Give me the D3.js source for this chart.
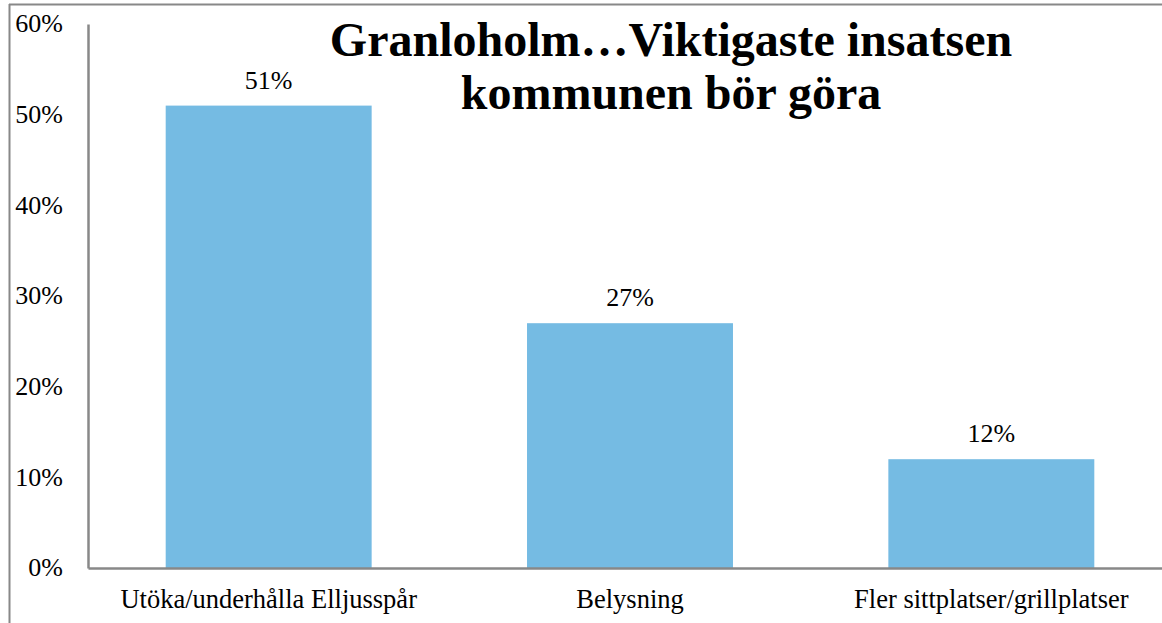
<!DOCTYPE html>
<html>
<head>
<meta charset="utf-8">
<script src="https://cdn.jsdelivr.net/npm/d3@7"></script>
<style>
  body { margin: 0; background: #fff; }
  svg { display: block; }
  text { font-family: "Liberation Serif", "DejaVu Serif", serif; }
</style>
</head>
<body>
<svg id="chart" width="1162" height="623"></svg>
<script>
const categories = ["Utöka/underhålla Elljusspår", "Belysning", "Fler sittplatser/grillplatser"];
const values = [51, 27, 12];
const yTicks = [0, 10, 20, 30, 40, 50, 60];
const titleLines = ["Granloholm…Viktigaste insatsen", "kommunen bör göra"];

const svg = d3.select("#chart");
const margin = { left: 88, right: -10, top: 24, bottom: 55 };
const width = 1162, height = 623;

// outer chart frame (only top and left edges are visible)
svg.append("line")
    .attr("x1", 9).attr("x2", width)
    .attr("y1", 4.5).attr("y2", 4.5)
    .attr("stroke", "#888").attr("stroke-width", 2);
svg.append("line")
    .attr("x1", 9.5).attr("x2", 9.5)
    .attr("y1", 4).attr("y2", height)
    .attr("stroke", "#888").attr("stroke-width", 2);

const x = d3.scaleBand()
    .domain(categories)
    .range([margin.left, width - margin.right])
    .paddingInner(0.43)
    .paddingOuter(0.215);

const y = d3.scaleLinear()
    .domain([0, 60])
    .range([height - margin.bottom, margin.top]);

// bars
svg.append("g")
    .selectAll("rect")
    .data(values)
    .enter().append("rect")
    .attr("x", (d, i) => x(categories[i]))
    .attr("width", x.bandwidth())
    .attr("y", (d) => y(d))
    .attr("height", (d) => y(0) - y(d))
    .attr("fill", "#75bbe3");

// value labels
svg.append("g")
    .selectAll("text")
    .data(values)
    .enter().append("text")
    .attr("x", (d, i) => x(categories[i]) + x.bandwidth() / 2)
    .attr("y", (d) => y(d) - 17)
    .attr("text-anchor", "middle")
    .attr("font-size", 26)
    .text((d) => d + "%");

// y axis
const yAxis = svg.append("g")
    .attr("transform", "translate(" + margin.left + ",0)")
    .call(d3.axisLeft(y).tickValues(yTicks).tickSize(0).tickPadding(25)
        .tickFormat((d) => d + "%"));
yAxis.select(".domain").attr("stroke", "#888").attr("stroke-width", 2.5);
yAxis.selectAll("text")
    .attr("font-size", 26)
    .attr("fill", "#000")
    .attr("dy", "0.3em");

// x axis
const xAxis = svg.append("g")
    .attr("transform", "translate(0," + y(0) + ")")
    .call(d3.axisBottom(x).tickSize(0));
xAxis.select(".domain").attr("stroke", "#888").attr("stroke-width", 2.5);
xAxis.selectAll("text")
    .attr("y", 40)
    .attr("dy", null)
    .attr("font-size", 26.5)
    .attr("fill", "#000");

// title
svg.append("text")
    .attr("x", 671)
    .attr("y", 56)
    .attr("text-anchor", "middle")
    .attr("font-size", 48)
    .attr("font-weight", "bold")
    .selectAll("tspan")
    .data(titleLines)
    .enter().append("tspan")
    .attr("x", 671)
    .attr("dy", (d, i) => i === 0 ? 0 : 53)
    .text((d) => d);
</script>
</body>
</html>
